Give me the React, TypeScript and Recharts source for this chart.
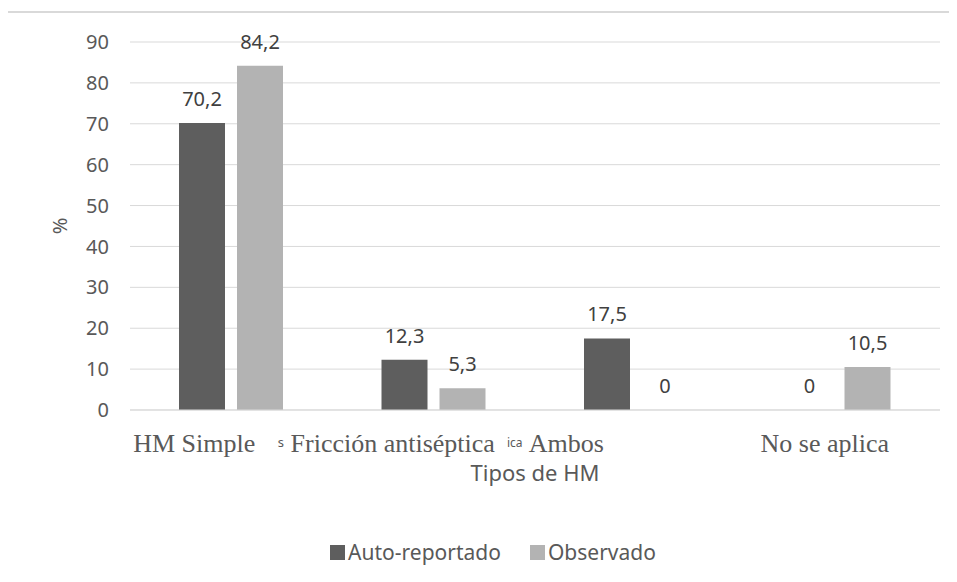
import React from 'react';
import { BarChart, Bar, XAxis, YAxis, CartesianGrid, Legend, LabelList } from 'recharts';

const categories = ['HM Simple', 'Fricción antiséptica', 'Ambos', 'No se aplica'];
const autoReportado = [70.2, 12.3, 17.5, 0];
const observado = [84.2, 5.3, 0, 10.5];
const yTicks = [0, 10, 20, 30, 40, 50, 60, 70, 80, 90];

const data = categories.map((name, i) => ({
  name,
  auto: autoReportado[i],
  obs: observado[i],
}));

const DARK = '#5e5e5e';
const LIGHT = '#b3b3b3';
const TEXT = '#595959';
const SANS = '"Noto Sans", "Open Sans", sans-serif';
const SERIF = '"Liberation Serif", "DejaVu Serif", serif';

// the category labels in the original sit off-centre
const tickShift = [-37, -41, -70, -14];

const CategoryTick = (props: any) => {
  const { x, y, payload, index } = props;
  const cx = x + tickShift[index];
  return (
    <g>
      <text x={cx} y={y + 42} textAnchor="middle" fontFamily={SERIF} fontSize={26} fill={TEXT}>
        {payload.value}
      </text>
      {index === 1 && (
        <>
          <text x={x - 153} y={y + 37} textAnchor="middle" fontFamily={SANS} fontSize={13} fill={TEXT}>s</text>
          <text x={x + 81} y={y + 37} textAnchor="middle" fontFamily={SANS} fontSize={12} fill={TEXT}>ica</text>
        </>
      )}
    </g>
  );
};

const fmt = (v: any) => String(v).replace('.', ',');

const LegendContent = () => (
  <div style={{ display: 'flex', justifyContent: 'center', paddingLeft: 46, fontFamily: SANS, fontSize: 21, color: TEXT, lineHeight: '30px' }}>
    {[
      { label: 'Auto-reportado', color: DARK },
      { label: 'Observado', color: LIGHT },
    ].map((it, i) => (
      <div key={it.label} style={{ display: 'flex', alignItems: 'center', marginLeft: i ? 29 : 0 }}>
        <span style={{ display: 'inline-block', width: 15, height: 15, background: it.color, marginRight: 3 }} />
        <span>{it.label}</span>
      </div>
    ))}
  </div>
);

export default function App() {
  return (
    <div style={{ position: 'relative', width: 957, height: 582, margin: -8, overflow: 'hidden', background: '#fff' }}>
      <div
        style={{
          position: 'absolute', left: 6, top: 11, width: 1000, height: 700,
          borderLeft: '2px solid #d9d9d9', borderTop: '2px solid #d9d9d9',
        }}
      />
      <div style={{ position: 'absolute', left: 0, top: 0 }}>
        <BarChart
          width={957}
          height={582}
          data={data}
          margin={{ top: 42, right: 17, left: 0, bottom: 15 }}
          barSize={46}
          barGap={12}
        >
          <CartesianGrid vertical={false} stroke="#d9d9d9" />
          <XAxis
            dataKey="name"
            height={127}
            axisLine={{ stroke: '#d9d9d9' }}
            tickLine={false}
            tickSize={0}
            tickMargin={0}
            interval={0}
            tick={<CategoryTick />}
            label={{ value: 'Tipos de HM', position: 'insideBottom', offset: 56, fill: TEXT, fontSize: 22, fontFamily: SANS }}
          />
          <YAxis
            width={130}
            domain={[0, 90]}
            ticks={yTicks}
            axisLine={false}
            tickLine={false}
            tickSize={0}
            tickMargin={21}
            tick={{ fill: TEXT, fontSize: 20, fontFamily: SANS }}
            label={({ viewBox }: any) => (
              <text
                x={59}
                y={viewBox.y + viewBox.height / 2}
                transform={`rotate(-90 59 ${viewBox.y + viewBox.height / 2})`}
                textAnchor="middle"
                dominantBaseline="central"
                fill={TEXT}
                fontSize={20}
                fontFamily={SANS}
              >
                %
              </text>
            )}
          />
          <Legend verticalAlign="bottom" height={30} content={<LegendContent />} />
          <Bar dataKey="auto" name="Auto-reportado" fill={DARK} minPointSize={0.1} isAnimationActive={false}>
            <LabelList dataKey="auto" position="top" offset={17} formatter={fmt} fill="#404040" fontSize={20} fontFamily={SANS} />
          </Bar>
          <Bar dataKey="obs" name="Observado" fill={LIGHT} minPointSize={0.1} isAnimationActive={false}>
            <LabelList dataKey="obs" position="top" offset={17} formatter={fmt} fill="#404040" fontSize={20} fontFamily={SANS} />
          </Bar>
        </BarChart>
      </div>
    </div>
  );
}
